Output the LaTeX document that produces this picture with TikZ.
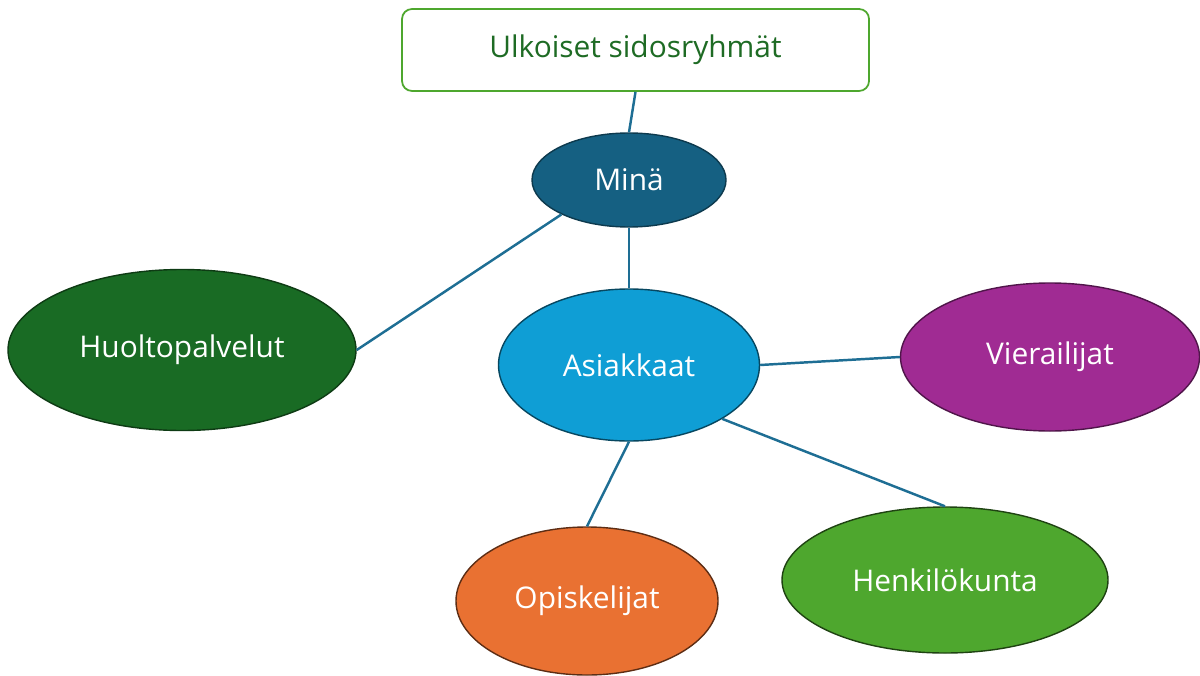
\documentclass[tikz,border=0pt]{standalone}
\usepackage{fontspec}
\setmainfont{Open Sans}
\usepackage{xcolor}
\usepackage{tikz}
\usetikzlibrary{shapes.geometric}
\definecolor{SRNavy}{HTML}{156082}
\definecolor{SRCyan}{HTML}{0F9ED5}
\definecolor{SRForest}{HTML}{196B24}
\definecolor{SRPurple}{HTML}{A02B93}
\definecolor{SROrange}{HTML}{E97132}
\definecolor{SRGreen}{HTML}{4EA72E}
\definecolor{SRLine}{HTML}{1E6E94}
\definecolor{SRText}{HTML}{1E6B24}

\begin{document}
\begin{tikzpicture}[x=1cm,y=1cm,
  srlabel/.style={font=\fontsize{17}{20}\selectfont},
  srblob/.style={ellipse,srlabel,text=white,line width=0.8pt,inner sep=0pt},
  srlink/.style={SRLine,line width=1.4pt}]
\path[use as bounding box] (0,0) rectangle (24.00,13.50);
\node[draw=SRGreen,line width=1pt,rounded corners=0.2cm,fill=white,
  minimum width=9.34cm,minimum height=1.64cm,srlabel,text=SRText] (ulko) at (12.71,12.50) {Ulkoiset sidosryhmät};
\node[srblob,fill=SRNavy,draw=SRNavy!60!black,minimum width=3.88cm,minimum height=1.88cm] (mina) at (12.58,9.90) {Minä};
\node[srblob,fill=SRCyan,draw=SRCyan!45!black,minimum width=5.22cm,minimum height=3.04cm] (asiak) at (12.58,6.20) {Asiakkaat};
\node[srblob,fill=SRForest,draw=SRForest!55!black,minimum width=6.96cm,minimum height=3.22cm] (huolto) at (3.64,6.50) {Huoltopalvelut};
\node[srblob,fill=SRPurple,draw=SRPurple!50!black,minimum width=5.98cm,minimum height=2.96cm] (vier) at (21.00,6.36) {Vierailijat};
\node[srblob,fill=SROrange,draw=SROrange!40!black,minimum width=5.24cm,minimum height=2.96cm] (opis) at (11.74,1.48) {Opiskelijat};
\node[srblob,fill=SRGreen,draw=SRGreen!40!black,minimum width=6.52cm,minimum height=2.92cm] (henk) at (18.90,1.90) {Henkilökunta};
\draw[srlink] (ulko.south) -- (mina.north);
\draw[srlink] (mina.south) -- (asiak.north);
\draw[srlink] (mina.207) -- (huolto.east);
\draw[srlink] (asiak.east) -- (vier.west);
\draw[srlink] (asiak.south) -- (opis.north);
\draw[srlink] (asiak.-30) -- (henk.north);
\end{tikzpicture}
\end{document}
